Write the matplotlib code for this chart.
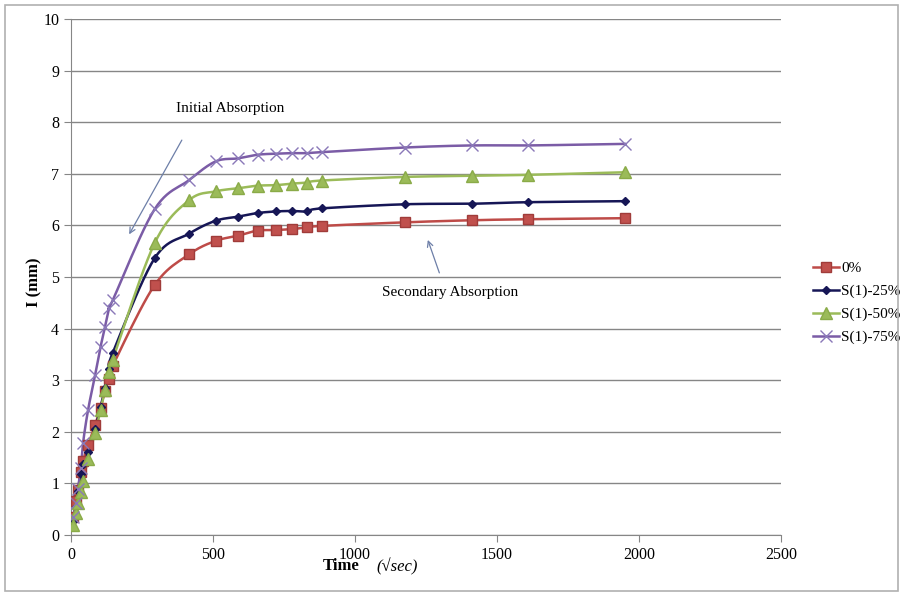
#!/usr/bin/env python3

import numpy as np
import matplotlib
matplotlib.use('Agg')
import matplotlib.pyplot as plt
from matplotlib.patches import Rectangle

# time in sqrt(sec)
t = [7.7, 17.3, 24.5, 34.6, 42.4, 60, 84.9, 103.9, 120, 134.2, 147,
     294, 416, 509, 588, 657, 720, 778, 831, 882, 1176, 1410, 1610, 1950]

s0 = [0.34, 0.65, 0.87, 1.23, 1.44, 1.74, 2.13, 2.47, 2.80, 3.03, 3.28,
      4.84, 5.44, 5.70, 5.80, 5.90, 5.91, 5.93, 5.96, 5.99, 6.06, 6.10, 6.12, 6.14]
s25 = [0.28, 0.55, 0.85, 1.18, 1.38, 1.60, 2.05, 2.48, 2.85, 3.22, 3.53,
       5.36, 5.84, 6.09, 6.17, 6.24, 6.27, 6.28, 6.27, 6.33, 6.41, 6.42, 6.45, 6.47]
s50 = [0.20, 0.42, 0.62, 0.83, 1.04, 1.47, 1.97, 2.42, 2.81, 3.15, 3.40,
       5.65, 6.49, 6.66, 6.72, 6.77, 6.78, 6.81, 6.83, 6.87, 6.94, 6.96, 6.98, 7.03]
s75 = [0.35, 0.62, 0.90, 1.30, 1.78, 2.42, 3.10, 3.64, 4.04, 4.39, 4.55,
       6.31, 6.88, 7.24, 7.30, 7.37, 7.39, 7.40, 7.40, 7.42, 7.51, 7.55, 7.55, 7.58]

labels = ['0%', 'S(1)-25%', 'S(1)-50%', 'S(1)-75%']


def smooth(x, y, n=12):
    # catmull-rom style curve through the points, like excel's smoothed line
    x = np.asarray(x, float)
    y = np.asarray(y, float)
    px = np.concatenate([[2 * x[0] - x[1]], x, [2 * x[-1] - x[-2]]])
    py = np.concatenate([[2 * y[0] - y[1]], y, [2 * y[-1] - y[-2]]])
    xs, ys = [], []
    u = np.linspace(0, 1, n, endpoint=False)
    for i in range(1, len(px) - 2):
        for p, out in ((px, xs), (py, ys)):
            p0, p1, p2, p3 = p[i - 1], p[i], p[i + 1], p[i + 2]
            m1 = (p2 - p0) / 6
            m2 = (p3 - p1) / 6
            out.extend((1 - u)**3 * p1 + 3 * (1 - u)**2 * u * (p1 + m1)
                       + 3 * (1 - u) * u**2 * (p2 - m2) + u**3 * p2)
    xs.append(x[-1])
    ys.append(y[-1])
    return np.array(xs), np.array(ys)


plt.rcParams['font.family'] = ['Liberation Serif', 'DejaVu Serif']

fig = plt.figure(figsize=(9.02, 5.96), dpi=100)
ax = fig.add_axes([0.0787, 0.1023, 0.7873, 0.8658])

fig.patches.append(Rectangle((0.006, 0.008), 0.99, 0.984, transform=fig.transFigure,
                             fill=False, edgecolor='#b0b0b0', linewidth=1.2))

styles = [
    dict(color='#be4b48', marker='s', ms=7, mfc='#c0504d', mec='#a03c3a'),
    dict(color='#161656', marker='D', ms=4.5, mfc='#161656', mec='#161656'),
    dict(color='#9bbb59', marker='^', ms=8, mfc='#9bbb59', mec='#8aab48'),
    dict(color='#7b5ca6', marker='x', ms=8, mfc='#8a78b8', mec='#8a78b8'),
]

for ys, lab, st in zip([s0, s25, s50, s75], labels, styles):
    sx, sy = smooth(t, ys)
    ax.plot(sx, sy, color=st['color'], lw=1.8, zorder=3)
    ax.plot(t, ys, linestyle='none', marker=st['marker'], ms=st['ms'],
            mfc=st['mfc'], mec=st['mec'], mew=1, zorder=4)
    ax.plot([], [], color=st['color'], lw=1.8, marker=st['marker'], ms=st['ms'],
            mfc=st['mfc'], mec=st['mec'], label=lab)

ax.set_xlim(0, 2500)
ax.set_ylim(0, 10)
ax.set_xticks(np.arange(0, 2501, 500))
ax.set_yticks(np.arange(0, 11, 1))
ax.yaxis.grid(True, color='#868686', lw=1)
ax.set_axisbelow(True)
for s in ['top', 'right']:
    ax.spines[s].set_visible(False)
for s in ['left', 'bottom']:
    ax.spines[s].set_color('#868686')
ax.tick_params(colors='#868686', labelcolor='black', labelsize=11.5, length=5)

ax.text(-130, 4.9, 'I (mm)', rotation=90, ha='center', va='center',
        fontsize=12, fontweight='bold')
fig.text(0.378, 0.05, 'Time', ha='center', va='center', fontsize=12, fontweight='bold')
fig.text(0.44, 0.05, '(\u221asec)', ha='center', va='center', fontsize=12, style='italic')

ax.annotate('', xy=(200, 5.78), xytext=(395, 7.7),
            arrowprops=dict(arrowstyle='->', color='#6d7fa8', lw=0.9))
ax.text(560, 8.27, 'Initial Absorption', ha='center', va='center', fontsize=11)
ax.annotate('', xy=(1253, 5.77), xytext=(1300, 5.03),
            arrowprops=dict(arrowstyle='->', color='#6d7fa8', lw=0.9))
ax.text(1335, 4.7, 'Secondary Absorption', ha='center', va='center', fontsize=11)

ax.legend(loc='center left', bbox_to_anchor=(1.025, 0.45), frameon=False,
          fontsize=11, handlelength=1.7, handletextpad=0.15, labelspacing=0.6)

fig.savefig('out.png', dpi=100)
